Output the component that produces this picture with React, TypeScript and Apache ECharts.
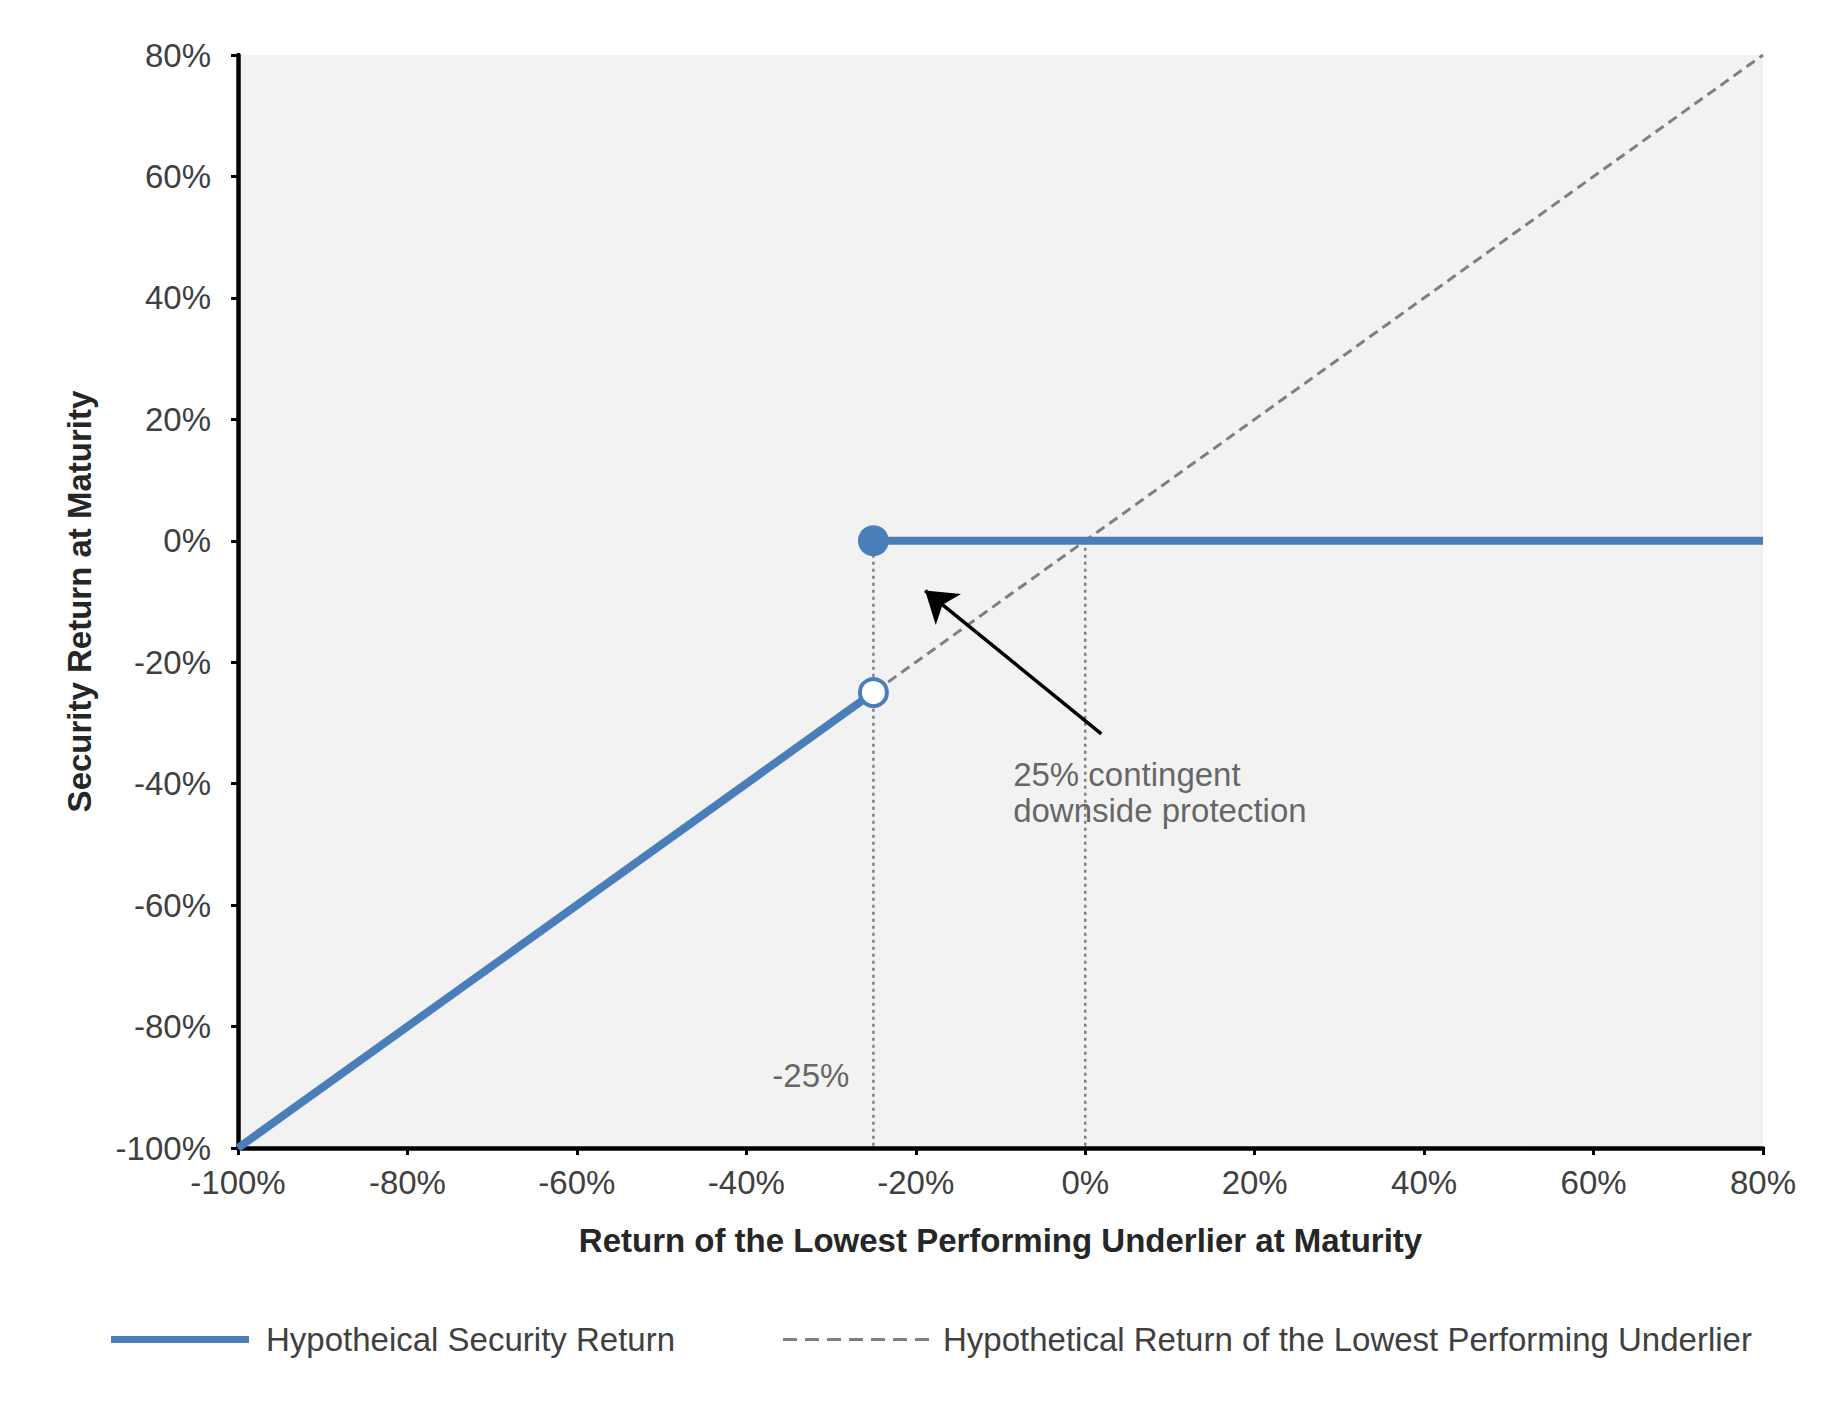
import { useEffect, useRef } from "react"
import * as echarts from "echarts"

// axis ticks (percent)
const axisMin = -100
const axisMax = 80
const axisStep = 20

// series values: [underlier return, security return]
const securityBelowBarrier = [[-100, -100], [-25, -25]]
const securityAboveBarrier = [[-25, 0], [80, 0]]
const underlierReturn = [[-100, -100], [80, 80]]

// barrier markers
const barrierHit = [[-25, -25]]
const barrierKept = [[-25, 0]]

// dotted guides
const guideBarrier = [[-25, 0], [-25, -100]]
const guideZero = [[0, 0], [0, -100]]

// annotations
const barrierLabel = "-25%"
const barrierLabelPos = [[-25, -88]]
const noteText = "25% contingent\ndownside protection"
const notePos = [[-9.1, -41.5]]
const arrowFrom = [1.9, -31.8]
const arrowTo = [-18.9, -8.2]

const securityName = "Hypotheical Security Return"
const underlierName = "Hypothetical Return of the Lowest Performing Underlier"

const BLUE = "#4a7ebb"
const GREY = "#7f7f7f"
const FONT = "Liberation Sans, Arial, sans-serif"

export default function App() {
  const chartRef = useRef<HTMLDivElement>(null)

  useEffect(() => {
    if (!chartRef.current) return
    const chart = echarts.init(chartRef.current, null, { renderer: "svg" })

    const axisCommon = {
      type: "value",
      min: axisMin,
      max: axisMax,
      interval: axisStep,
      splitLine: { show: false },
      axisLine: { show: true, onZero: false, lineStyle: { color: "#000", width: 4.5 } },
      axisTick: { show: true, length: 7, lineStyle: { color: "#000", width: 3 } },
      nameTextStyle: { fontFamily: FONT, fontSize: 33, fontWeight: "bold", color: "#262626" },
    }

    const option = {
      animation: false,
      grid: {
        left: 238,
        right: 79,
        top: 55,
        bottom: 259,
        show: true,
        backgroundColor: "#f2f2f2",
        borderWidth: 0,
      },
      xAxis: {
        ...axisCommon,
        name: "Return of the Lowest Performing Underlier at Maturity",
        nameLocation: "middle",
        nameGap: 76,
        axisLabel: {
          formatter: "{value}%",
          margin: 18,
          fontFamily: FONT,
          fontSize: 33,
          color: "#404040",
        },
      },
      yAxis: {
        ...axisCommon,
        name: "Security Return at Maturity",
        nameLocation: "middle",
        nameGap: 142,
        axisLabel: {
          formatter: "{value}%",
          margin: 27,
          fontFamily: FONT,
          fontSize: 33,
          color: "#404040",
        },
      },
      legend: [
        {
          data: [{ name: securityName, icon: "rect" }],
          left: 106,
          top: 1318,
          itemWidth: 138,
          itemHeight: 7,
          textStyle: { fontFamily: FONT, fontSize: 33, color: "#404040", padding: [0, 0, 0, 12] },
          selectedMode: false,
        },
        {
          data: [
            {
              name: underlierName,
              icon: "path://M0,0h14v3h-14z M22,0h14v3h-14z M44,0h14v3h-14z M66,0h14v3h-14z M88,0h14v3h-14z M110,0h14v3h-14z M132,0h14v3h-14z",
            },
          ],
          left: 778,
          top: 1318,
          itemWidth: 148,
          itemHeight: 3,
          textStyle: { fontFamily: FONT, fontSize: 33, color: "#404040", padding: [0, 0, 0, 8] },
          selectedMode: false,
        },
      ],
      series: [
        {
          name: "guideBarrier",
          type: "line",
          data: guideBarrier,
          symbol: "none",
          silent: true,
          z: 1,
          lineStyle: { color: GREY, width: 2.5, type: [3, 4] },
        },
        {
          name: "guideZero",
          type: "line",
          data: guideZero,
          symbol: "none",
          silent: true,
          z: 1,
          lineStyle: { color: GREY, width: 2.5, type: [3, 4] },
        },
        {
          name: underlierName,
          type: "line",
          data: underlierReturn,
          symbol: "none",
          silent: true,
          z: 2,
          color: GREY,
          lineStyle: { color: GREY, width: 3, type: [10, 6] },
          markLine: {
            silent: true,
            symbol: ["none", "arrow"],
            symbolSize: 30,
            label: { show: false },
            lineStyle: { color: "#000", width: 3.5, type: "solid" },
            data: [[{ coord: arrowFrom }, { coord: arrowTo }]],
          },
        },
        {
          name: securityName,
          type: "line",
          data: securityBelowBarrier,
          symbol: "none",
          silent: true,
          z: 3,
          color: BLUE,
          lineStyle: { color: BLUE, width: 8 },
        },
        {
          name: securityName,
          type: "line",
          data: securityAboveBarrier,
          symbol: "none",
          silent: true,
          z: 3,
          color: BLUE,
          lineStyle: { color: BLUE, width: 8 },
        },
        {
          name: "barrierKept",
          type: "scatter",
          data: barrierKept,
          symbolSize: 31,
          silent: true,
          z: 4,
          itemStyle: { color: BLUE, opacity: 1 },
        },
        {
          name: "barrierHit",
          type: "scatter",
          data: barrierHit,
          symbolSize: 27,
          silent: true,
          z: 4,
          itemStyle: { color: "#fff", borderColor: BLUE, borderWidth: 4, opacity: 1 },
        },
        {
          name: "barrierLabel",
          type: "scatter",
          data: barrierLabelPos,
          symbolSize: 0,
          silent: true,
          z: 5,
          label: {
            show: true,
            position: "left",
            distance: 24,
            formatter: barrierLabel,
            fontFamily: FONT,
            fontSize: 33,
            color: "#404040",
          },
        },
        {
          name: "note",
          type: "scatter",
          data: notePos,
          symbolSize: 0,
          silent: true,
          z: 5,
          label: {
            show: true,
            position: "right",
            distance: 5,
            formatter: noteText,
            fontFamily: FONT,
            fontSize: 33,
            lineHeight: 36,
            color: "#404040",
          },
        },
      ],
    }

    chart.setOption(option)

    const handleResize = () => chart.resize()
    window.addEventListener("resize", handleResize)
    return () => {
      window.removeEventListener("resize", handleResize)
      chart.dispose()
    }
  }, [])

  return (
    <div
      ref={chartRef}
      style={{ position: "fixed", left: 0, top: 0, width: "100vw", height: "100vh", background: "#fff" }}
    />
  )
}
